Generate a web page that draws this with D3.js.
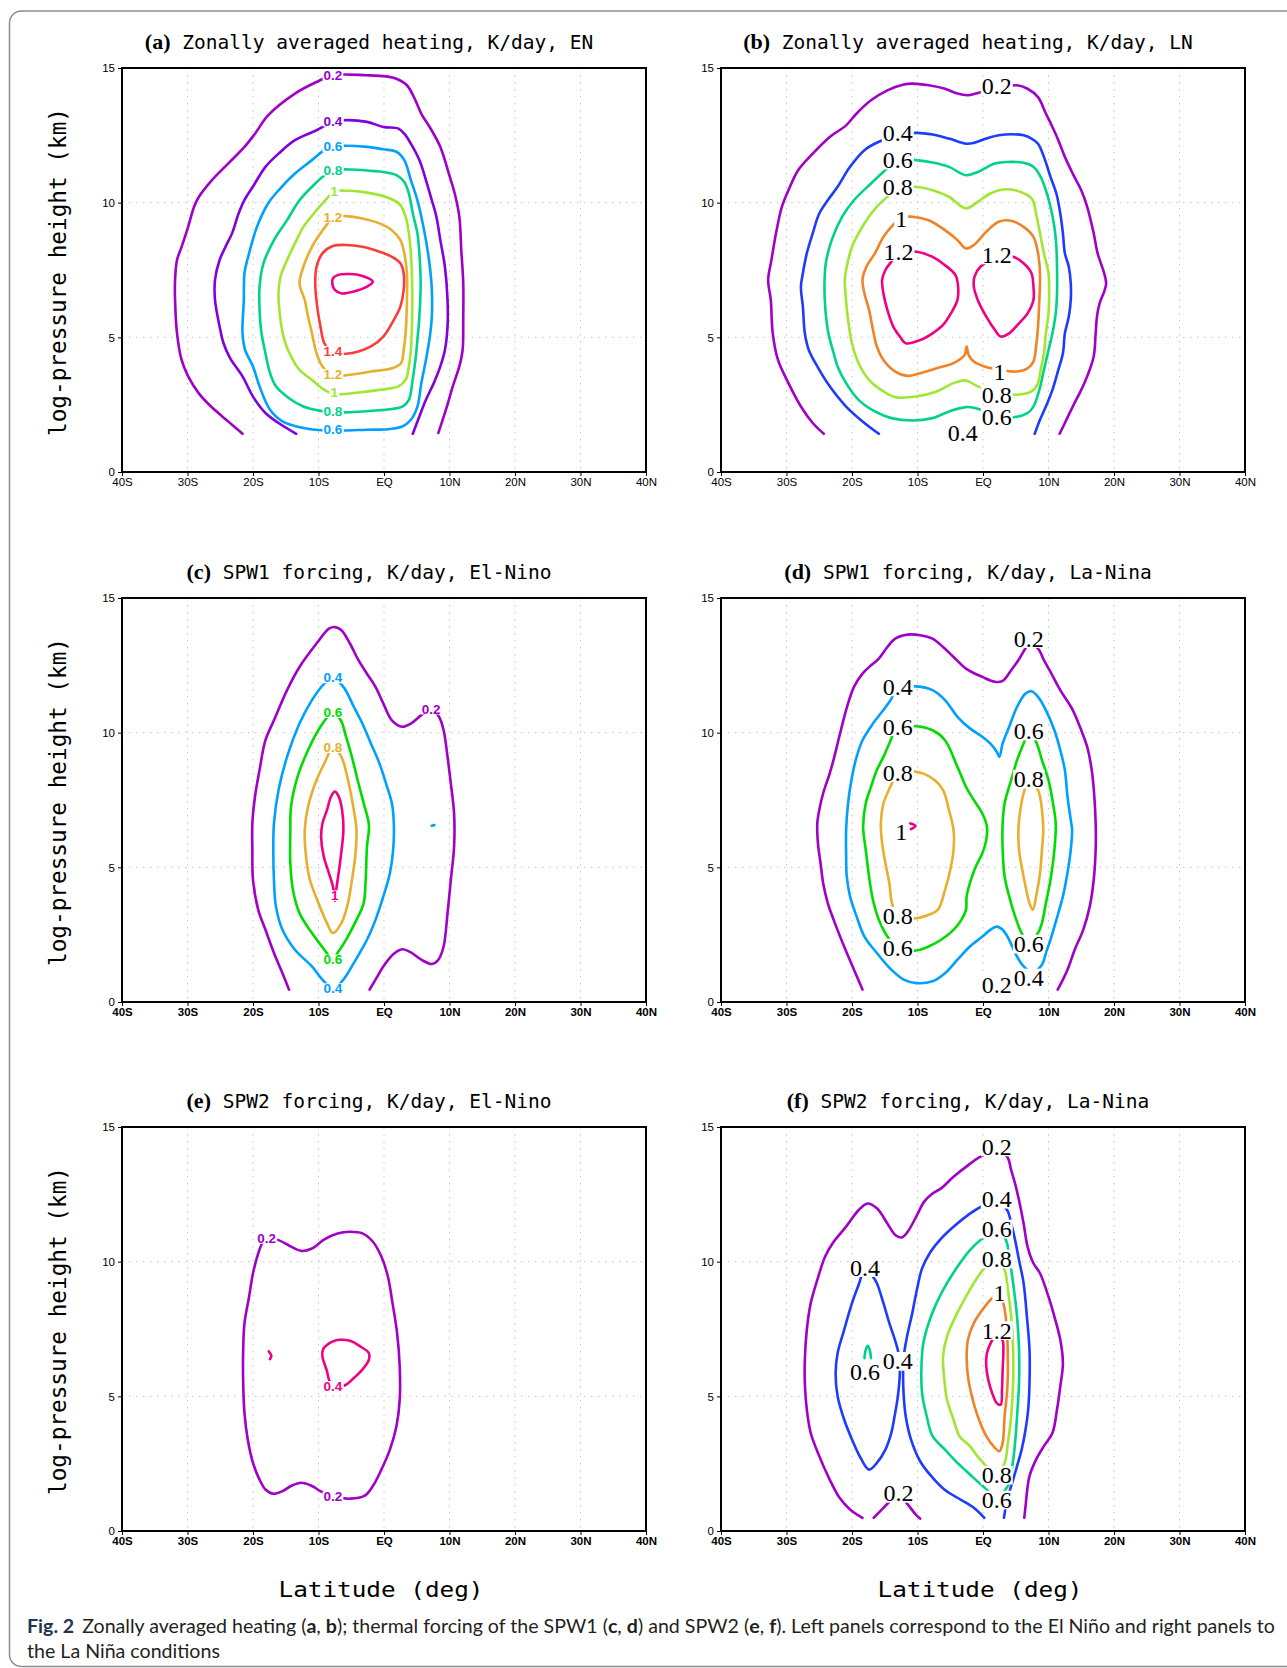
<!DOCTYPE html>
<html>
<head>
<meta charset="utf-8">
<script src="https://cdn.jsdelivr.net/npm/d3@7"></script>
<style>
  body { margin: 0; background: #fff; }
  svg { display: block; }
</style>
</head>
<body>
<div class="figure"></div>
<script>
// axis ticks
const latTicks = [-40, -30, -20, -10, 0, 10, 20, 30, 40];
const latTickLabels = ['40S', '30S', '20S', '10S', 'EQ', '10N', '20N', '30N', '40N'];
const heightTicks = [0, 5, 10, 15];

const panelLetters = ['a', 'b', 'c', 'd', 'e', 'f'];
const panelTitles = [
  'Zonally averaged heating, K/day, EN',
  'Zonally averaged heating, K/day, LN',
  'SPW1 forcing, K/day, El-Nino',
  'SPW1 forcing, K/day, La-Nina',
  'SPW2 forcing, K/day, El-Nino',
  'SPW2 forcing, K/day, La-Nina'
];

// contour lines, [latitude, height km]
// (a) zonally averaged heating, EN
const a02 = [[-21.6,1.42],[-23.8,1.88],[-26.4,2.43],[-28.3,2.93],[-29.9,3.55],[-30.9,4.16],[-31.6,5.15],[-31.9,6.39],[-31.9,7.13],[-31.6,7.87],[-30.9,8.36],[-29.9,9.1],[-29.0,9.85],[-28.3,10.2],[-26.4,10.8],[-23.8,11.45],[-21.3,12.07],[-19.7,12.56],[-17.7,13.24],[-13.6,14.05],[-10.3,14.48],[-7.8,14.73],[-2.6,14.73],[0.3,14.69],[1.9,14.6],[3.5,14.36],[4.8,13.8],[5.7,13.3],[7.0,12.8],[8.6,12.07],[9.9,11.08],[10.8,10.34],[11.5,9.48],[11.8,8.24],[12.1,7.0],[12.1,5.77],[12.0,4.53],[11.5,3.92],[10.5,3.18],[9.6,2.43],[8.3,1.45]];
const a04 = [[-13.4,1.42],[-16.1,1.82],[-18.1,2.19],[-20.0,2.8],[-21.6,3.55],[-23.5,4.23],[-24.5,4.78],[-25.1,5.4],[-25.8,6.39],[-25.8,7.13],[-25.1,7.87],[-24.2,8.36],[-23.2,8.86],[-22.2,9.6],[-21.3,10.1],[-20.0,10.6],[-18.1,11.33],[-16.1,11.82],[-13.6,12.32],[-10.3,12.69],[-7.8,13.0],[-6.2,13.06],[-2.6,13.0],[-0.1,12.81],[2.2,12.75],[3.1,12.56],[4.1,12.19],[5.4,11.58],[6.4,10.84],[7.3,10.09],[8.0,9.48],[8.6,8.61],[9.3,7.62],[9.7,6.39],[9.7,5.4],[9.3,4.53],[8.6,3.92],[7.6,3.3],[6.4,2.68],[5.4,2.06],[4.4,1.42]];
const a06 = [[-7.8,12.07],[-6.2,12.11],[-2.6,12.07],[-0.1,11.98],[1.9,11.89],[3.1,11.58],[4.1,10.84],[5.1,10.09],[5.7,9.48],[6.4,8.61],[7.0,7.62],[7.3,6.76],[7.3,5.77],[7.0,5.03],[6.4,4.16],[5.7,3.3],[5.1,2.43],[4.1,1.94],[2.8,1.69],[0.6,1.59],[-2.6,1.57],[-6.2,1.54],[-9.1,1.54],[-12.3,1.63],[-15.5,1.88],[-17.4,2.31],[-19.0,3.18],[-20.0,3.92],[-21.2,4.53],[-21.6,5.15],[-21.4,6.39],[-21.3,7.38],[-20.6,8.12],[-19.4,9.1],[-17.7,9.97],[-16.1,10.46],[-13.6,11.08],[-11.0,11.58],[-9.1,11.95]];
const a08 = [[-7.8,11.21],[-5.2,11.23],[-2.0,11.18],[-0.1,11.14],[1.9,11.02],[3.1,10.77],[3.8,10.34],[4.4,9.6],[5.1,8.86],[5.4,8.12],[5.6,7.0],[5.4,5.77],[5.1,4.9],[4.8,4.16],[4.3,3.3],[3.8,2.68],[2.8,2.43],[1.2,2.34],[-2.0,2.27],[-5.2,2.22],[-7.8,2.22],[-9.7,2.27],[-12.3,2.43],[-14.5,2.74],[-16.5,3.18],[-17.4,3.67],[-18.1,4.41],[-18.7,5.15],[-19.0,6.02],[-19.0,6.88],[-18.4,7.75],[-16.8,8.61],[-14.8,9.35],[-12.9,10.09],[-11.0,10.59],[-9.1,11.02]];
const a10 = [[-7.6,10.43],[-5.8,10.44],[-3.3,10.4],[-0.7,10.28],[1.5,10.09],[2.5,9.91],[3.3,9.48],[3.8,8.86],[4.1,8.12],[4.3,7.0],[4.3,5.77],[4.1,4.53],[3.8,3.92],[3.3,3.42],[2.2,3.18],[-0.7,3.05],[-3.9,2.95],[-7.6,2.89],[-9.1,3.05],[-11.0,3.42],[-12.9,3.79],[-14.2,4.29],[-15.2,4.9],[-15.8,5.65],[-16.1,6.63],[-15.8,7.25],[-14.8,7.87],[-13.6,8.49],[-12.3,9.1],[-10.3,9.72],[-8.7,10.16]];
const a12 = [[-7.8,9.48],[-5.8,9.5],[-3.3,9.41],[-0.7,9.23],[1.2,8.98],[2.5,8.61],[3.1,8.12],[3.5,7.38],[3.5,6.39],[3.3,5.15],[3.0,4.53],[2.6,4.04],[1.2,3.85],[-2.0,3.73],[-5.2,3.61],[-7.8,3.57],[-9.4,3.92],[-10.3,4.41],[-11.0,5.15],[-11.6,5.77],[-12.1,6.39],[-12.9,7.0],[-12.3,7.62],[-11.0,8.36],[-9.7,8.86],[-8.4,9.29]];
const a14 = [[-7.8,4.41],[-5.8,4.39],[-3.9,4.47],[-2.0,4.66],[-0.1,5.03],[1.5,5.65],[2.5,6.14],[3.0,6.76],[3.0,7.38],[2.5,7.75],[1.2,7.99],[-0.7,8.18],[-3.3,8.36],[-5.8,8.43],[-7.8,8.39],[-9.4,8.12],[-10.3,7.62],[-10.5,7.0],[-10.2,6.14],[-9.7,5.4],[-9.1,4.78]];
const a16 = [[-7.8,7.19],[-7.1,7.31],[-5.2,7.35],[-3.3,7.28],[-1.7,7.07],[-2.6,6.88],[-4.6,6.7],[-6.5,6.63],[-7.5,6.76],[-7.9,7.0]];
const labelsA = [[-7.8,14.73,'0.2'],[-7.8,13.02,'0.4'],[-7.8,12.07,'0.6'],[-7.8,1.56,'0.6'],[-7.8,11.2,'0.8'],[-7.8,2.24,'0.8'],[-7.6,10.42,'1'],[-7.6,2.95,'1'],[-7.8,9.45,'1.2'],[-7.8,3.62,'1.2'],[-7.8,4.48,'1.4']];

// (b) zonally averaged heating, LN
const b02 = [[-24.3,1.42],[-26.0,1.82],[-27.8,2.43],[-29.7,3.3],[-31.3,4.16],[-32.1,5.15],[-32.4,6.39],[-32.8,7.13],[-32.3,7.87],[-31.6,8.86],[-30.7,9.85],[-29.7,10.46],[-28.2,11.21],[-26.0,11.82],[-23.4,12.44],[-20.9,12.87],[-19.3,13.31],[-17.1,13.8],[-14.6,14.17],[-12.1,14.39],[-10.8,14.42],[-8.3,14.36],[-5.8,14.23],[-3.9,14.05],[-2.3,13.99],[-1.1,14.05],[2.0,14.25],[5.2,14.36],[6.8,14.23],[8.4,13.92],[9.6,13.31],[10.6,12.81],[11.5,12.32],[12.5,11.7],[13.7,11.08],[15.0,10.46],[15.9,9.85],[16.9,8.86],[17.5,8.12],[18.5,7.38],[18.8,7.0],[18.5,6.7],[17.8,6.26],[17.4,5.77],[17.2,5.15],[16.9,4.29],[15.9,3.55],[15.0,3.05],[13.7,2.43],[12.5,1.82],[11.7,1.42]];
const b04 = [[-15.9,1.42],[-18.1,1.82],[-20.9,2.43],[-23.4,3.18],[-25.3,3.92],[-26.6,4.53],[-27.2,5.15],[-27.5,6.14],[-27.8,6.88],[-27.5,7.38],[-26.9,8.12],[-26.0,8.86],[-25.0,9.6],[-23.7,10.09],[-22.2,10.59],[-20.3,11.33],[-18.1,11.95],[-15.9,12.26],[-13.0,12.5],[-10.2,12.59],[-7.7,12.53],[-5.2,12.38],[-2.6,12.19],[-1.4,12.22],[0.5,12.38],[2.4,12.5],[4.3,12.54],[6.2,12.5],[7.4,12.38],[8.4,12.19],[9.3,11.7],[10.3,10.96],[11.2,10.34],[11.8,9.6],[12.2,8.86],[12.5,8.12],[13.1,7.62],[13.4,7.0],[13.4,6.39],[13.1,5.77],[12.5,5.15],[12.2,4.41],[11.5,3.79],[10.6,3.05],[9.6,2.43],[8.7,1.94],[7.9,1.42]];
const b06 = [[-13.0,11.6],[-10.2,11.58],[-7.7,11.49],[-5.2,11.33],[-2.6,11.02],[-0.8,11.14],[1.8,11.45],[3.7,11.51],[6.2,11.48],[7.7,11.33],[8.8,10.96],[9.6,10.46],[10.3,9.85],[10.9,9.1],[11.2,8.36],[11.3,7.62],[11.3,6.63],[11.1,5.89],[10.6,5.15],[10.0,4.53],[9.3,3.79],[8.6,3.05],[7.7,2.43],[6.8,2.19],[4.9,2.04],[2.1,2.1],[-0.1,2.29],[-1.1,2.37],[-2.6,2.41],[-5.2,2.25],[-7.7,2.0],[-10.8,1.91],[-14.0,2.0],[-16.5,2.25],[-19.0,2.68],[-20.9,3.3],[-22.2,3.92],[-22.8,4.41],[-23.6,5.15],[-24.1,6.14],[-24.2,7.0],[-24.0,7.75],[-23.1,8.61],[-21.5,9.48],[-19.7,10.09],[-17.1,10.71],[-14.9,11.21]];
const b08 = [[-13.0,10.55],[-10.2,10.59],[-7.7,10.46],[-5.2,10.22],[-2.6,9.79],[-0.8,10.03],[1.1,10.34],[3.0,10.49],[4.9,10.46],[6.8,10.28],[7.6,10.09],[8.1,9.6],[8.7,8.86],[9.3,8.12],[10.0,7.38],[10.1,6.63],[10.0,5.89],[9.6,5.15],[9.3,4.41],[8.8,3.79],[8.4,3.3],[7.4,2.99],[5.2,2.87],[2.3,2.95],[-0.8,3.18],[-2.6,3.4],[-4.5,3.3],[-7.1,2.99],[-10.2,2.8],[-13.4,2.78],[-15.2,2.99],[-17.4,3.42],[-19.0,4.04],[-20.0,4.78],[-20.6,5.65],[-21.0,6.63],[-21.1,7.13],[-20.8,7.62],[-20.0,8.36],[-19.0,8.86],[-17.8,9.35],[-16.2,9.85],[-14.6,10.22]];
const b10 = [[-12.5,9.45],[-10.8,9.48],[-8.3,9.35],[-5.8,8.98],[-3.9,8.61],[-2.6,8.3],[-1.4,8.43],[0.5,8.92],[2.4,9.29],[4.3,9.33],[6.2,9.1],[7.7,8.73],[8.4,8.12],[8.7,7.38],[8.6,6.39],[8.4,5.4],[8.1,4.66],[7.7,4.1],[6.8,3.85],[4.9,3.73],[2.5,3.8],[0.2,3.92],[-1.4,4.1],[-2.2,4.35],[-2.5,4.66],[-2.8,4.35],[-4.5,4.04],[-7.1,3.85],[-9.6,3.67],[-11.5,3.57],[-13.4,3.73],[-15.2,4.16],[-16.2,4.66],[-16.8,5.28],[-17.4,6.02],[-18.1,6.63],[-18.4,7.13],[-17.8,7.62],[-16.5,8.12],[-15.2,8.73],[-14.0,9.1]];
const b12w = [[-12.9,8.15],[-10.2,8.18],[-7.7,7.99],[-5.8,7.68],[-4.2,7.31],[-3.8,6.88],[-3.9,6.39],[-4.9,5.89],[-6.1,5.46],[-7.7,5.15],[-9.6,4.9],[-11.8,4.78],[-12.7,5.03],[-13.7,5.4],[-14.6,6.02],[-15.2,6.63],[-15.4,7.13],[-14.9,7.5],[-14.0,7.81]];
const b12e = [[2.1,7.95],[4.6,7.99],[6.2,7.75],[7.4,7.38],[7.7,6.88],[7.7,6.39],[6.8,5.89],[5.5,5.52],[4.0,5.15],[2.7,5.03],[1.8,5.28],[0.5,5.77],[-0.8,6.39],[-1.4,6.88],[-1.3,7.25],[-0.4,7.62]];
const labelsB = [[2.1,14.32,'0.2'],[-13.0,12.57,'0.4'],[-13.0,11.58,'0.6'],[-13.0,10.59,'0.8'],[-12.5,9.41,'1'],[-12.9,8.18,'1.2'],[2.1,8.06,'1.2'],[2.5,3.73,'1'],[2.1,2.87,'0.8'],[2.1,2.04,'0.6'],[-3.1,1.45,'0.4']];

// (c) SPW1 forcing, El-Nino
const c02 = [[-14.5,0.46],[-15.5,1.07],[-16.8,1.82],[-18.1,2.68],[-19.2,3.42],[-20.0,4.53],[-20.1,5.65],[-20.1,6.63],[-19.7,7.62],[-19.0,8.61],[-18.1,9.72],[-16.8,10.46],[-14.8,11.58],[-12.9,12.44],[-10.3,13.31],[-8.4,13.86],[-7.5,13.92],[-6.5,13.8],[-5.2,13.31],[-3.9,12.69],[-2.6,12.19],[-1.3,11.7],[-0.1,11.08],[1.2,10.46],[2.8,10.22],[4.1,10.34],[5.7,10.65],[7.2,10.87],[8.4,10.59],[9.1,10.09],[9.7,9.1],[10.2,8.12],[10.7,7.0],[10.7,5.77],[10.2,4.53],[9.7,3.3],[9.1,2.06],[8.3,1.57],[7.3,1.41],[5.7,1.57],[4.1,1.84],[2.8,1.96],[1.5,1.79],[-0.1,1.32],[-1.3,0.83],[-2.2,0.46]];
const c04 = [[-7.8,12.03],[-6.2,11.7],[-4.6,10.96],[-3.3,10.34],[-2.0,9.6],[-0.7,8.86],[0.3,8.12],[1.2,7.38],[1.5,6.63],[1.4,5.65],[0.9,4.78],[-0.1,3.92],[-1.3,3.05],[-2.6,2.31],[-4.6,1.45],[-6.2,0.83],[-7.8,0.48],[-9.4,0.83],[-11.0,1.32],[-13.6,1.94],[-15.5,2.68],[-16.5,3.55],[-16.8,4.53],[-16.9,5.65],[-16.8,6.63],[-16.1,7.87],[-14.8,9.1],[-12.9,10.34],[-11.0,11.21],[-9.1,11.82]];
const c04bit = [[7.3,6.54],[7.7,6.57]];
const c06 = [[-7.8,10.74],[-6.6,10.46],[-5.8,9.85],[-4.9,9.1],[-3.9,8.12],[-3.1,7.38],[-2.3,6.57],[-2.6,5.77],[-2.8,4.53],[-3.1,3.67],[-4.2,3.05],[-5.8,2.31],[-7.1,1.82],[-7.8,1.57],[-9.1,1.94],[-11.0,2.56],[-12.9,3.3],[-13.9,4.16],[-14.3,5.15],[-14.3,6.39],[-14.2,7.25],[-13.2,8.36],[-11.6,9.35],[-9.7,10.22]];
const c08 = [[-7.8,9.44],[-6.5,9.1],[-5.5,8.24],[-4.7,7.25],[-4.2,6.39],[-4.4,5.4],[-4.9,4.53],[-5.5,3.67],[-6.5,2.93],[-7.8,2.56],[-8.7,2.93],[-10.0,3.67],[-11.3,4.53],[-11.9,5.4],[-12.1,6.39],[-11.6,7.25],[-10.3,8.24],[-9.1,8.86]];
const c10 = [[-7.5,3.75],[-7.3,4.16],[-7.0,4.66],[-6.6,5.4],[-6.2,6.39],[-6.4,7.13],[-6.9,7.62],[-7.5,7.81],[-8.1,7.62],[-8.7,7.13],[-9.4,6.63],[-9.6,6.14],[-9.2,5.4],[-8.4,4.78],[-7.8,4.29]];
const labelsC = [[-7.8,12.03,'0.4'],[-7.8,0.5,'0.4'],[-7.8,10.74,'0.6'],[-7.8,1.57,'0.6'],[-7.8,9.44,'0.8'],[-7.5,3.95,'1'],[7.2,10.87,'0.2']];

// (d) SPW1 forcing, La-Nina
const d02 = [[-18.4,0.46],[-19.7,1.2],[-21.2,2.06],[-22.8,3.05],[-23.7,3.67],[-24.4,4.41],[-24.8,5.15],[-25.2,5.89],[-25.3,6.63],[-25.0,7.13],[-24.4,7.75],[-23.4,8.49],[-22.7,9.1],[-22.2,9.6],[-21.7,10.09],[-20.9,10.84],[-19.7,11.7],[-18.4,12.19],[-17.1,12.5],[-15.9,12.75],[-14.6,13.18],[-13.4,13.49],[-11.5,13.64],[-9.6,13.62],[-7.7,13.49],[-6.1,13.18],[-4.5,12.81],[-2.6,12.38],[-0.1,12.07],[1.8,11.89],[3.0,11.92],[4.3,12.32],[5.4,12.69],[6.3,13.06],[7.0,13.3],[8.4,13.12],[9.3,12.69],[10.3,12.26],[11.8,11.58],[13.7,10.84],[15.0,10.09],[15.9,9.48],[16.6,8.61],[17.0,7.62],[17.2,6.63],[17.2,5.65],[16.9,4.53],[16.3,3.55],[15.3,2.68],[14.0,1.94],[13.1,1.32],[12.2,0.83],[11.4,0.46]];
const d04 = [[-13.0,11.65],[-10.2,11.72],[-7.7,11.58],[-5.8,11.21],[-3.9,10.59],[-2.0,10.16],[-0.1,9.85],[1.1,9.6],[2.1,9.29],[2.5,9.1],[3.0,9.6],[4.0,10.22],[5.2,10.96],[6.5,11.45],[7.4,11.54],[8.4,11.33],[9.6,10.84],[10.9,10.09],[11.8,9.35],[12.5,8.61],[12.9,7.62],[13.4,6.76],[13.6,6.39],[13.4,5.65],[12.8,4.66],[12.2,3.92],[11.2,3.05],[10.3,2.31],[9.6,1.82],[9.0,1.38],[7.5,1.1],[6.0,1.38],[4.9,1.82],[4.0,2.31],[3.0,2.68],[2.1,2.8],[1.1,2.68],[-0.1,2.43],[-2.0,2.06],[-3.9,1.57],[-5.8,1.07],[-7.7,0.77],[-10.2,0.7],[-12.1,0.83],[-14.0,1.2],[-16.2,1.82],[-18.1,2.43],[-19.3,3.18],[-20.3,3.92],[-20.8,4.66],[-20.9,5.52],[-20.9,6.39],[-20.6,7.38],[-20.0,8.36],[-19.3,9.1],[-18.4,9.72],[-16.8,10.34],[-15.2,10.84],[-14.1,11.21]];
const d06w = [[-13.0,10.2],[-10.2,10.24],[-7.7,10.09],[-5.8,9.72],[-3.9,8.73],[-2.6,7.99],[-1.4,7.5],[-0.1,7.0],[0.6,6.51],[0.5,6.02],[-0.1,5.52],[-1.1,5.03],[-2.0,4.41],[-2.5,3.92],[-2.6,3.42],[-3.3,3.05],[-4.5,2.68],[-6.4,2.31],[-8.3,2.06],[-10.2,1.91],[-13.0,2.0],[-14.6,2.43],[-15.9,3.05],[-16.8,3.79],[-17.4,4.66],[-17.9,5.65],[-18.3,6.51],[-17.9,7.38],[-17.1,7.99],[-16.2,8.61],[-15.2,9.1],[-14.3,9.6]];
const d06e = [[7.0,10.0],[8.1,9.66],[9.0,8.98],[10.0,8.24],[10.6,7.5],[11.1,6.63],[10.9,5.65],[10.3,4.53],[9.6,3.67],[9.0,2.93],[8.4,2.56],[7.0,2.2],[5.9,2.56],[4.9,3.18],[4.0,3.92],[3.3,4.66],[3.0,5.65],[3.0,6.63],[3.3,7.38],[4.3,8.24],[5.2,8.98],[6.2,9.6]];
const d08w = [[-13.0,8.5],[-10.2,8.55],[-7.7,8.3],[-6.1,7.87],[-5.2,7.13],[-4.5,6.39],[-4.5,5.65],[-5.0,4.9],[-5.8,4.16],[-6.9,3.42],[-8.3,3.24],[-10.2,3.11],[-13.0,3.18],[-13.9,3.67],[-14.3,4.41],[-14.9,5.15],[-15.4,5.89],[-15.6,6.63],[-15.2,7.38],[-14.6,7.75],[-13.9,8.12]];
const d08e = [[7.0,8.2],[8.4,7.87],[9.0,7.13],[9.2,6.39],[9.0,5.65],[8.7,4.78],[8.2,4.04],[7.6,3.42],[7.1,3.67],[6.5,4.29],[6.0,4.9],[5.5,5.65],[5.4,6.39],[5.7,7.13],[6.2,7.75]];
const d10 = [[-11.1,6.63],[-10.3,6.54],[-11.0,6.42]];
const labelsD = [[7.0,13.49,'0.2'],[2.1,0.64,'0.2'],[-13.0,11.7,'0.4'],[7.0,0.89,'0.4'],[-13.0,10.22,'0.6'],[-13.0,2.0,'0.6'],[7.0,10.06,'0.6'],[7.0,2.15,'0.6'],[-13.0,8.52,'0.8'],[-13.0,3.18,'0.8'],[7.0,8.27,'0.8'],[-12.5,6.33,'1']];

// (e) SPW2 forcing, El-Nino
const e02 = [[-17.9,10.86],[-16.1,10.8],[-14.2,10.56],[-12.6,10.4],[-11.0,10.49],[-9.1,10.83],[-7.1,11.05],[-5.2,11.11],[-3.3,11.05],[-1.7,10.74],[-0.4,10.19],[0.6,9.44],[1.3,8.46],[2.0,7.35],[2.4,6.11],[2.4,4.88],[1.9,3.89],[0.9,3.02],[-0.4,2.28],[-1.7,1.67],[-3.0,1.3],[-5.2,1.2],[-6.5,1.23],[-7.8,1.27],[-9.7,1.48],[-11.0,1.67],[-12.6,1.79],[-14.2,1.67],[-15.5,1.48],[-16.9,1.38],[-18.1,1.54],[-19.0,1.91],[-20.0,2.53],[-20.8,3.4],[-21.3,4.38],[-21.5,5.49],[-21.5,6.73],[-21.3,7.72],[-20.6,8.7],[-20.0,9.57],[-19.2,10.31],[-18.6,10.68]];
const e04 = [[-8.7,5.93],[-9.4,6.48],[-9.3,6.75],[-8.7,6.91],[-7.8,7.04],[-6.8,7.1],[-5.2,7.06],[-3.6,6.85],[-2.3,6.6],[-2.3,6.36],[-3.3,5.99],[-4.6,5.68],[-5.8,5.43],[-6.8,5.35],[-7.8,5.37],[-8.4,5.62]];
const e04bit = [[-17.6,6.67],[-17.2,6.51],[-17.4,6.38]];
const labelsE = [[-17.9,10.86,'0.2'],[-7.8,1.27,'0.2'],[-7.8,5.37,'0.4']];

// (f) SPW2 forcing, La-Nina
const f02 = [[-18.4,0.49],[-20.3,0.8],[-21.9,1.23],[-23.4,1.91],[-25.0,2.78],[-26.3,3.64],[-26.9,4.51],[-27.2,5.49],[-27.2,6.36],[-26.9,7.47],[-26.3,8.46],[-25.3,9.32],[-24.1,10.19],[-22.8,10.74],[-20.9,11.3],[-19.0,11.91],[-17.6,12.16],[-16.2,11.98],[-14.6,11.42],[-13.4,10.99],[-12.4,10.9],[-11.5,11.11],[-10.2,11.67],[-9.0,12.22],[-7.7,12.53],[-6.4,12.72],[-4.5,13.15],[-2.6,13.52],[-0.3,13.91],[2.1,14.1],[3.7,13.89],[4.3,13.4],[4.9,12.9],[5.5,12.28],[6.2,11.42],[6.8,10.56],[7.7,9.94],[8.7,9.57],[10.0,8.7],[10.9,7.96],[11.8,7.1],[12.2,6.23],[11.8,5.37],[11.3,4.51],[10.6,3.64],[9.3,3.15],[8.1,2.65],[7.1,2.04],[6.7,1.42],[6.5,0.93],[6.3,0.49]];
const f02low = [[-16.7,0.49],[-15.2,0.86],[-14.0,1.15],[-12.9,1.35],[-11.5,0.99],[-10.3,0.62],[-9.6,0.46]];
const f04w = [[-18.0,9.78],[-18.9,9.2],[-20.0,8.46],[-21.2,7.47],[-22.2,6.6],[-22.5,5.86],[-22.2,5.0],[-21.2,4.14],[-20.0,3.4],[-18.7,2.72],[-17.4,2.28],[-16.2,2.53],[-14.9,3.02],[-14.0,3.64],[-13.5,4.26],[-13.0,5.0],[-12.7,5.86],[-12.8,6.48],[-13.3,6.98],[-14.3,7.72],[-15.2,8.46],[-16.2,9.2],[-16.8,9.44]];
const f04e = [[0.2,0.49],[-1.4,0.86],[-3.3,1.15],[-5.8,1.52],[-7.7,1.98],[-9.6,2.59],[-11.0,3.4],[-11.8,4.26],[-12.1,5.0],[-12.2,5.74],[-12.1,6.48],[-11.6,7.22],[-10.8,8.09],[-10.1,8.95],[-9.3,9.75],[-8.0,10.37],[-6.4,10.86],[-4.5,11.3],[-2.3,11.73],[-0.3,12.04],[2.1,12.25],[3.7,11.91],[4.3,11.42],[4.9,10.8],[5.5,10.06],[6.2,9.2],[6.7,7.96],[7.1,6.73],[7.1,5.49],[6.9,4.51],[6.5,3.77],[5.9,3.02],[5.2,2.41],[4.6,1.91],[4.0,1.42],[3.5,0.93],[3.2,0.49]];
const f06 = [[2.1,11.2],[-0.1,10.86],[-2.0,10.43],[-3.9,9.81],[-5.5,9.2],[-7.1,8.46],[-8.3,7.72],[-9.1,6.98],[-9.4,6.11],[-9.3,5.12],[-8.6,4.26],[-7.7,3.52],[-5.8,3.02],[-3.9,2.53],[-2.0,2.1],[-0.3,1.73],[2.1,1.3],[3.8,1.67],[4.3,2.16],[4.8,3.02],[5.2,4.26],[5.5,5.49],[5.5,6.73],[5.2,7.96],[4.6,9.2],[4.0,10.19],[3.5,10.8]];
const f06bit = [[-18.1,6.42],[-17.9,6.73],[-17.6,6.88],[-17.3,6.73],[-17.1,6.42]];
const f08 = [[2.1,10.1],[0.4,9.81],[-1.1,9.32],[-2.6,8.7],[-4.2,7.96],[-5.5,7.22],[-6.1,6.48],[-5.9,5.62],[-5.5,4.88],[-4.5,4.14],[-3.6,3.52],[-2.0,3.15],[-0.4,2.65],[2.1,2.1],[3.3,2.53],[3.8,3.27],[4.3,4.26],[4.6,5.49],[4.6,6.73],[4.3,7.96],[3.8,8.95],[3.3,9.69]];
const f10 = [[2.5,8.8],[1.4,8.64],[-0.1,8.21],[-1.4,7.72],[-2.3,7.1],[-2.5,6.48],[-2.3,5.74],[-1.7,5.0],[-0.8,4.26],[0.5,3.52],[1.8,3.09],[2.5,2.96],[3.0,3.27],[3.3,4.26],[3.7,5.25],[3.8,6.23],[3.7,7.22],[3.4,8.09],[3.1,8.46]];
const f12 = [[2.1,7.35],[1.3,7.04],[0.6,6.6],[0.5,6.11],[0.8,5.62],[1.4,5.12],[2.1,4.75],[2.7,4.69],[2.9,5.25],[3.0,5.99],[3.1,6.6],[3.0,7.07]];
const labelsF = [[2.1,14.26,'0.2'],[-12.9,1.4,'0.2'],[2.1,12.32,'0.4'],[-18.0,9.78,'0.4'],[-13.0,6.3,'0.4'],[2.1,11.21,'0.6'],[2.1,1.15,'0.6'],[-18.0,5.89,'0.6'],[2.1,10.1,'0.8'],[2.1,2.07,'0.8'],[2.5,8.83,'1'],[2.1,7.44,'1.2']];

const contours = [
  [{lev:'0.2',pts:a02},{lev:'0.4',pts:a04},{lev:'0.6',pts:a06,closed:true},{lev:'0.8',pts:a08,closed:true},{lev:'1',pts:a10,closed:true},{lev:'1.2',pts:a12,closed:true},{lev:'1.4',pts:a14,closed:true},{lev:'1.6',pts:a16,closed:true}],
  [{lev:'0.2',pts:b02},{lev:'0.4',pts:b04},{lev:'0.6',pts:b06,closed:true},{lev:'0.8',pts:b08,closed:true},{lev:'1',pts:b10,closed:true},{lev:'1.2',pts:b12w,closed:true},{lev:'1.2',pts:b12e,closed:true}],
  [{lev:'0.2',pts:c02},{lev:'0.4',pts:c04,closed:true},{lev:'0.4',pts:c04bit},{lev:'0.6',pts:c06,closed:true},{lev:'0.8',pts:c08,closed:true},{lev:'1',pts:c10,closed:true}],
  [{lev:'0.2',pts:d02},{lev:'0.4',pts:d04,closed:true},{lev:'0.6',pts:d06w,closed:true},{lev:'0.6',pts:d06e,closed:true},{lev:'0.8',pts:d08w,closed:true},{lev:'0.8',pts:d08e,closed:true},{lev:'1',pts:d10}],
  [{lev:'0.2',pts:e02,closed:true},{lev:'0.4',pts:e04,closed:true},{lev:'0.4',pts:e04bit}],
  [{lev:'0.2',pts:f02},{lev:'0.2',pts:f02low},{lev:'0.4',pts:f04w,closed:true},{lev:'0.4',pts:f04e},{lev:'0.6',pts:f06,closed:true},{lev:'0.6',pts:f06bit},{lev:'0.8',pts:f08,closed:true},{lev:'1',pts:f10,closed:true},{lev:'1.2',pts:f12,closed:true}]
];
const contourLabels = [labelsA, labelsB, labelsC, labelsD, labelsE, labelsF];

// GrADS rainbow colours
const purple = 'rgb(160,0,200)', dpurple = 'rgb(130,0,220)', mblue = 'rgb(0,160,255)',
      aqua = 'rgb(0,210,140)', yellowgreen = 'rgb(160,230,50)', dyellow = 'rgb(230,175,45)',
      red = 'rgb(250,60,60)', magenta = 'rgb(240,0,130)', dblue = 'rgb(30,60,255)',
      orange = 'rgb(240,130,40)', green = 'rgb(0,220,0)';
const colorsEN = {'0.2':purple,'0.4':dpurple,'0.6':mblue,'0.8':aqua,'1':yellowgreen,'1.2':dyellow,'1.4':red,'1.6':magenta};
const colorsLN = {'0.2':purple,'0.4':dblue,'0.6':aqua,'0.8':yellowgreen,'1':orange,'1.2':magenta};
const colorsSPW1 = {'0.2':purple,'0.4':mblue,'0.6':green,'0.8':dyellow,'1':magenta};
const colorsSPW2EN = {'0.2':purple,'0.4':magenta};
const panelColors = [colorsEN, colorsLN, colorsSPW1, colorsSPW1, colorsSPW2EN, colorsLN];

// layout
const width = 1287, height = 1668;
const colX = [122, 721], rowY = [68, 598, 1127];
const W = 524, H = 404;

const svg = d3.select('.figure').append('svg')
    .attr('width', width)
    .attr('height', height)
    .style('font-family', 'Liberation Sans, Arial, sans-serif');

// outer frame of the figure box
svg.append('rect')
    .attr('x', 9.5).attr('y', 11)
    .attr('width', 1400).attr('height', 1655.5)
    .attr('rx', 12)
    .attr('fill', 'none')
    .attr('stroke', '#8c8c8c')
    .attr('stroke-width', 1.5);

const x = d3.scaleLinear().domain([-40, 40]).range([0, W]);
const y = d3.scaleLinear().domain([0, 15]).range([H, 0]);

panelLetters.forEach((letter, i) => {
    const col = i % 2, row = Math.floor(i / 2);
    const g = svg.append('g').attr('transform', `translate(${colX[col]},${rowY[row]})`);
    const bigLabels = (col === 1);

    // dotted grid
    g.selectAll('.vgrid').data(latTicks.slice(1, -1)).enter()
        .append('line')
        .attr('x1', d => x(d)).attr('x2', d => x(d))
        .attr('y1', 0).attr('y2', H)
        .attr('stroke', '#c4c4c4').attr('stroke-width', 1)
        .attr('stroke-dasharray', '1.5,5.5');
    g.selectAll('.hgrid').data([5, 10]).enter()
        .append('line')
        .attr('x1', 0).attr('x2', W)
        .attr('y1', d => y(d)).attr('y2', d => y(d))
        .attr('stroke', '#c4c4c4').attr('stroke-width', 1)
        .attr('stroke-dasharray', '1.5,5.5');

    // axes
    const xAxis = g.append('g').attr('transform', `translate(0,${H})`)
        .call(d3.axisBottom(x).tickValues(latTicks).tickFormat((d, k) => latTickLabels[k]).tickSize(4).tickPadding(2));
    xAxis.select('.domain').remove();
    xAxis.selectAll('text')
        .attr('font-size', 11.5)
        .attr('font-family', 'Liberation Sans, Arial, sans-serif')
        .attr('font-weight', row > 0 ? 'bold' : 'normal')
        .attr('fill', '#000');
    const yAxis = g.append('g')
        .call(d3.axisLeft(y).tickValues(heightTicks).tickSize(4).tickPadding(3));
    yAxis.select('.domain').remove();
    yAxis.selectAll('text')
        .attr('font-size', 11.5)
        .attr('font-family', 'Liberation Sans, Arial, sans-serif')
        .attr('fill', '#000');

    // contour lines
    const line = d3.line().x(d => x(d[0])).y(d => y(d[1])).curve(d3.curveCatmullRom.alpha(0.5));
    const loop = d3.line().x(d => x(d[0])).y(d => y(d[1])).curve(d3.curveCatmullRomClosed.alpha(0.5));
    g.selectAll('.contour').data(contours[i]).enter()
        .append('path')
        .attr('d', d => d.closed ? loop(d.pts) : line(d.pts))
        .attr('fill', 'none')
        .attr('stroke', d => panelColors[i][d.lev])
        .attr('stroke-width', 2.6)
        .attr('stroke-linejoin', 'round')
        .attr('stroke-linecap', 'round');

    // contour labels
    contourLabels[i].forEach(l => {
        const t = g.append('text')
            .attr('x', x(l[0]))
            .attr('y', y(l[1]))
            .attr('text-anchor', 'middle')
            .attr('dominant-baseline', 'central')
            .text(l[2]);
        if (bigLabels) {
            t.attr('font-family', 'Liberation Serif, Times New Roman, serif')
             .attr('font-size', 24)
             .attr('fill', '#000');
        } else {
            t.attr('font-family', 'Liberation Sans, Arial, sans-serif')
             .attr('font-size', 13.5)
             .attr('font-weight', 'bold')
             .attr('fill', panelColors[i][l[2]]);
        }
        const bb = t.node().getBBox();
        const hh = bb.height * (bigLabels ? 0.72 : 0.7);
        g.insert('rect', () => t.node())
            .attr('x', bb.x - 1)
            .attr('y', bb.y + bb.height / 2 - hh / 2)
            .attr('width', bb.width + 2)
            .attr('height', hh)
            .attr('fill', '#fff');
    });

    // frame
    g.append('rect')
        .attr('width', W).attr('height', H)
        .attr('fill', 'none')
        .attr('stroke', '#000')
        .attr('stroke-width', 2);

    // title
    const title = g.append('text')
        .attr('x', W / 2 - 15)
        .attr('y', -19)
        .attr('text-anchor', 'middle')
        .attr('fill', '#000');
    title.append('tspan')
        .attr('font-family', 'Liberation Serif, Times New Roman, serif')
        .attr('font-weight', 'bold')
        .attr('font-size', 22)
        .text('(' + letter + ')');
    title.append('tspan')
        .attr('font-family', 'DejaVu Sans Mono, monospace')
        .attr('font-size', 19.5)
        .text(' ' + panelTitles[i]);

    // y label on left panels
    if (col === 0) {
        g.append('text')
            .attr('transform', `translate(${58 - colX[0]},${H / 2 + 2}) rotate(-90)`)
            .attr('text-anchor', 'middle')
            .attr('dominant-baseline', 'central')
            .attr('font-family', 'DejaVu Sans Mono, monospace')
            .attr('font-size', 23)
            .attr('textLength', 328)
            .attr('lengthAdjust', 'spacingAndGlyphs')
            .text('log-pressure height (km)');
    }
    // x label under bottom panels
    if (row === 2) {
        g.append('text')
            .attr('x', W / 2 - 3)
            .attr('y', 1597 - rowY[2])
            .attr('text-anchor', 'middle')
            .attr('font-family', 'DejaVu Sans Mono, monospace')
            .attr('font-size', 22)
            .attr('textLength', 205)
            .attr('lengthAdjust', 'spacingAndGlyphs')
            .text('Latitude (deg)');
    }
});

// caption
const cap1 = svg.append('text')
    .attr('font-family', 'Lato, Open Sans, sans-serif')
    .attr('font-size', 19.5)
    .attr('fill', '#231f20');
cap1.append('tspan').attr('font-weight', 'bold').attr('fill', '#1f3553').text('Fig. 2');
cap1.append('tspan').attr('dx', 8).text('Zonally averaged heating (');
cap1.append('tspan').attr('font-weight', 'bold').text('a');
cap1.append('tspan').text(', ');
cap1.append('tspan').attr('font-weight', 'bold').text('b');
cap1.append('tspan').text('); thermal forcing of the SPW1 (');
cap1.append('tspan').attr('font-weight', 'bold').text('c');
cap1.append('tspan').text(', ');
cap1.append('tspan').attr('font-weight', 'bold').text('d');
cap1.append('tspan').text(') and SPW2 (');
cap1.append('tspan').attr('font-weight', 'bold').text('e');
cap1.append('tspan').text(', ');
cap1.append('tspan').attr('font-weight', 'bold').text('f');
cap1.append('tspan').text('). Left panels correspond to the El Niño and right panels to');
const capW = cap1.node().getComputedTextLength();
const sx = 1240 / capW;
cap1.attr('transform', `translate(27,1633) scale(${sx},1)`);
svg.append('text')
    .attr('font-family', 'Lato, Open Sans, sans-serif')
    .attr('font-size', 19.5)
    .attr('fill', '#231f20')
    .attr('transform', `translate(27,1658) scale(${sx},1)`)
    .text('the La Niña conditions');
</script>
</body>
</html>
